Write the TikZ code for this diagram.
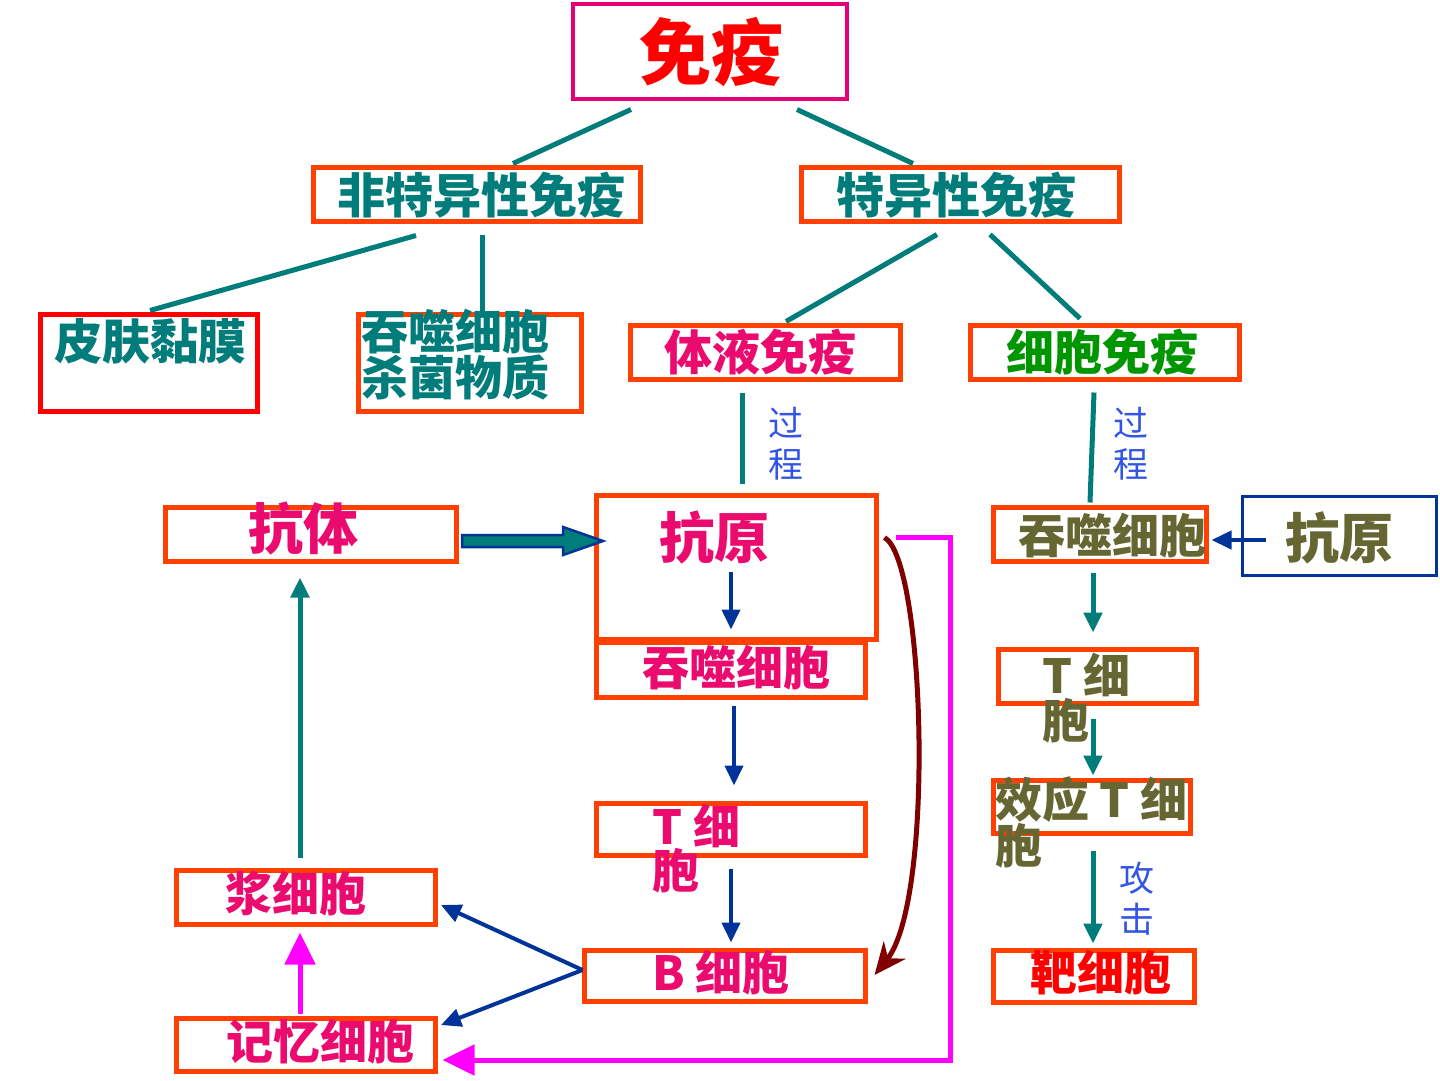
\documentclass[tikz,border=0pt]{standalone}
\usepackage{fontspec}
\setmainfont{Noto Sans CJK SC}
\usetikzlibrary{arrows.meta,calc}
\definecolor{cteal}{RGB}{0,124,122}
\definecolor{corange}{RGB}{255,64,0}
\definecolor{cpink}{RGB}{235,10,110}
\definecolor{ctop}{RGB}{230,0,120}
\definecolor{colive}{RGB}{102,102,51}
\definecolor{cgreen}{RGB}{0,150,0}
\definecolor{cblue}{RGB}{0,51,153}
\definecolor{clabel}{RGB}{51,85,230}
\definecolor{cmag}{RGB}{255,0,255}
\definecolor{cdred}{RGB}{128,0,0}
\begin{document}
\begin{tikzpicture}[x=1pt,y=-1pt,
  box/.style={draw=corange, line width=5pt, inner sep=0pt},
  txt/.style={inner sep=0pt, font=\bfseries\fontsize{#1}{#1}\selectfont},
  txt/.default=47,
  mtxt/.style={inner sep=0pt, align=left, anchor=west, font=\bfseries\fontsize{47}{#1}\selectfont},
  lbl/.style={inner sep=0pt, align=center, text=clabel, font=\fontsize{35}{41}\selectfont},
  tline/.style={draw=cteal, line width=5pt},
  tarrow/.style={draw=cteal, line width=5pt, -{Triangle[length=20pt,width=18pt]}, fill=cteal},
  barrow/.style={draw=cblue, line width=4pt, -{Triangle[length=20pt,width=18pt]}, fill=cblue},
  marrow/.style={draw=cmag, line width=5pt, -{Triangle[length=32pt,width=30pt]}},
  darrow/.style={draw=cdred, line width=5pt, -{Stealth[length=32pt,width=28pt]}}
]
\fill[white] (0,0) rectangle (1440,1080);
\useasboundingbox (0,0) rectangle (1440,1080);

% boxes
\node[box, draw=ctop, line width=4pt, minimum width=274pt, minimum height=95pt] (top) at (710,51.5) {};
\node[box, minimum width=327pt, minimum height=54pt] (nsi) at (477,194.5) {};
\node[box, minimum width=318pt, minimum height=54pt] (si) at (960.5,194.5) {};
\node[box, draw=red, minimum width=217pt, minimum height=97pt] (skin) at (149,363) {};
\node[box, minimum width=223pt, minimum height=97pt] (phagA) at (470,363) {};
\node[box, minimum width=270pt, minimum height=54pt] (humoral) at (765.5,352.5) {};
\node[box, minimum width=269pt, minimum height=54pt] (cellular) at (1105,352.5) {};
\node[box, minimum width=291pt, minimum height=54pt] (antibody) at (311,534.5) {};
\node[box, minimum width=280pt, minimum height=144pt] (antigenA) at (736.5,567.5) {};
\node[box, minimum width=269pt, minimum height=55pt] (phagB) at (731,670) {};
\node[box, minimum width=269pt, minimum height=52pt] (tcellA) at (731,829.5) {};
\node[box, minimum width=281pt, minimum height=51pt] (bcell) at (725,976) {};
\node[box, minimum width=259pt, minimum height=54pt] (plasma) at (306,897.5) {};
\node[box, minimum width=259pt, minimum height=53pt] (memory) at (306,1045) {};
\node[box, minimum width=213pt, minimum height=54pt] (phagC) at (1100,534.5) {};
\node[box, draw=cblue, line width=3.5pt, minimum width=194pt, minimum height=79pt] (antigenB) at (1339.5,536) {};
\node[box, minimum width=198pt, minimum height=54pt] (tcellB) at (1097.5,676.5) {};
\node[box, minimum width=197pt, minimum height=53pt] (efft) at (1092,807) {};
\node[box, minimum width=201pt, minimum height=52pt] (target) at (1094,976.5) {};

% texts
\node[txt=72, text=red] (tTop) at (711,52) {免疫};
\node[txt=48, text=cteal] (tNsi) at (481,195) {非特异性免疫};
\node[txt=48, text=cteal] (tSi) at (956,195) {特异性免疫};
\node[txt=48, text=cteal] (tSkin) at (150,341) {皮肤黏膜};
\node[mtxt=44, text=cteal] (tPhagA) at (361,354.5) {吞噬细胞\\杀菌物质};
\node[txt=48, text=cpink] (tHum) at (760,352) {体液免疫};
\node[txt=48, text=cgreen] (tCel) at (1102,352) {细胞免疫};
\node[txt=55, text=cpink] (tAntibody) at (303,529) {抗体};
\node[txt=55, text=cpink] (tAntigenA) at (714,538) {抗原};
\node[txt, text=cpink] (tPhagB) at (736,668) {吞噬细胞};
\node[mtxt=39, text=cpink] (tTcellA) at (652,848.5) {T 细\\胞};
\node[txt, text=cpink, anchor=west] (tBcell) at (652,973) {B 细胞};
\node[txt, text=cpink] (tPlasma) at (296,894) {浆细胞};
\node[txt, text=cpink] (tMemory) at (320,1042) {记忆细胞};
\node[txt, text=colive] (tPhagC) at (1112,536) {吞噬细胞};
\node[txt=54, text=colive] (tAntigenB) at (1339,538) {抗原};
\node[mtxt=36, text=colive] (tTcellB) at (1042,698) {T 细\\胞};
\node[mtxt=39, text=colive] (tEfft) at (995,822.5) {效应 T 细\\胞};
\node[txt, text=red] (tTarget) at (1101,973) {靶细胞};
\node[lbl] (lProcA) at (786,444) {过\\程};
\node[lbl] (lProcB) at (1131,444) {过\\程};
\node[lbl] (lAttack) at (1137,899) {攻\\击};

% tree lines
\draw[tline] ($(top.south)+(-79,8.5)$) -- ($(nsi.north)+(36,-1.5)$);
\draw[tline] ($(top.south)+(87,8.5)$) -- ($(si.north)+(-47.5,-1.5)$);
\draw[tline] ($(nsi.south)+(-61,11.5)$) -- ($(skin.north)+(1,-1.5)$);
\draw[tline] ($(nsi.south)+(5,10.5)$) -- ($(phagA.north)+(12,1.5)$);
\draw[tline] ($(si.south)+(-23.5,10.5)$) -- ($(humoral.north)+(20.5,-1.5)$);
\draw[tline] ($(si.south)+(29.5,10.5)$) -- ($(cellular.north)+(-25,-4.5)$);
\draw[tline] ($(humoral.south)+(-23.5,10.5)$) -- ($(antigenA.north)+(5.5,-9.5)$);
\draw[tline] ($(cellular.south)+(-11,10.5)$) -- ($(phagC.north)+(-10,-2.5)$);

% humoral chain
\draw[barrow] ($(antigenA.center)+(-5.5,4.5)$) -- ($(phagB.north)+(0,-10.5)$);
\draw[barrow] ($(phagB.south)+(3,5.5)$) -- ($(tcellA.north)+(3,-15.5)$);
\draw[barrow] ($(tcellA.south)+(0,10.5)$) -- ($(bcell.north)+(6,-5.5)$);
\draw[barrow] ($(bcell.west)+(0.5,-6)$) -- ($(plasma.east)+(3,7.5)$);
\draw[barrow] ($(bcell.west)+(0.5,-6)$) -- ($(memory.east)+(3,-20)$);
\draw[marrow] ($(memory.north)+(-6,-2.5)$) -- ($(plasma.south)+(-6,5.5)$);
\draw[tarrow] ($(plasma.north)+(-6,-10.5)$) -- ($(antibody.south)+(-11,13.5)$);
\filldraw[fill=cteal, draw=cblue, line width=2.5pt, line join=miter]
  ($(antibody.east)+(3,0.5)$) -- ++(101,0) -- ++(0,-8) -- ++(40,14) -- ++(-40,14) -- ++(0,-8) -- ++(-101,0) -- cycle;
\draw[marrow] ($(antigenA.north east)+(16.5,44.5)$) -| ($(memory.east)+(512.5,15)$) -- ($(memory.east)+(4.5,15)$);
\draw[darrow] ($(antigenA.north east)+(5.5,44.5)$) .. controls (925,560) and (935,900) .. ($(bcell.east)+(6.5,-1)$);

% cellular chain
\draw[barrow] ($(antigenB.west)+(25,4)$) -- ($(phagC.east)+(2.5,5.5)$);
\draw[tarrow] ($(phagC.south)+(-7,8.5)$) -- ($(tcellB.north)+(-4.5,-14.5)$);
\draw[tarrow] ($(tcellB.south)+(-4.5,12.5)$) -- ($(efft.north)+(1,-2.5)$);
\draw[tarrow] ($(efft.south)+(1,14.5)$) -- ($(target.north)+(-1,-4.5)$);
\end{tikzpicture}
\end{document}
